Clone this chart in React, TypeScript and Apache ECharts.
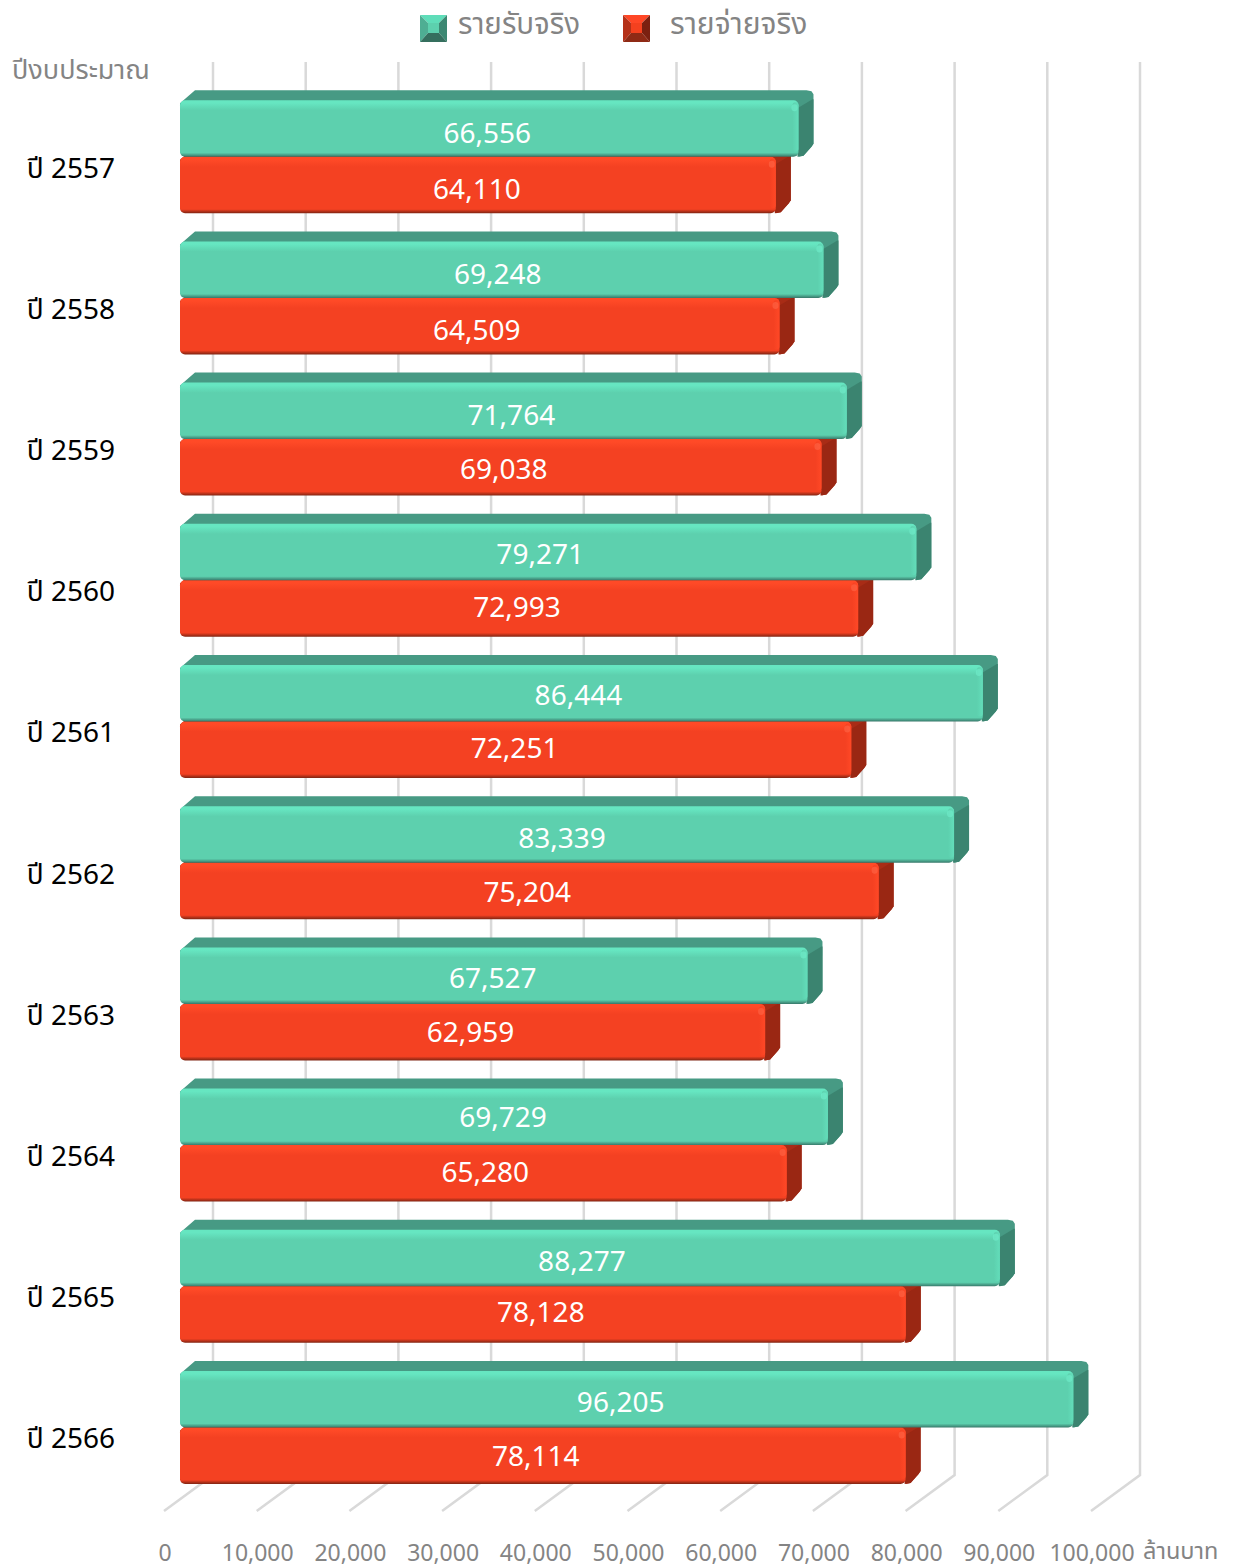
import React, { useEffect, useRef } from "react";
import * as echarts from "echarts";

const categories = ["ปี 2557", "ปี 2558", "ปี 2559", "ปี 2560", "ปี 2561", "ปี 2562", "ปี 2563", "ปี 2564", "ปี 2565", "ปี 2566"];
const incomeActual = [66556, 69248, 71764, 79271, 86444, 83339, 67527, 69729, 88277, 96205];
const expenseActual = [64110, 64509, 69038, 72993, 72251, 75204, 62959, 65280, 78128, 78114];
const valueTicks = [0, 10000, 20000, 30000, 40000, 50000, 60000, 70000, 80000, 90000, 100000];

const incomeName = "รายรับจริง";
const expenseName = "รายจ่ายจริง";

// small label placement corrections
const incomeNudgeX = [-2, -4, -2, -8, -3, -5, -1, -1, -8, -6];
const incomeNudgeY = [4, 3, 3, 1, 1, 3, 1, -1, 2, 2];
const expenseNudgeX = [-1, -3, 3, -2, -1, -2, -2, 2, -2, -7];
const expenseNudgeY = [3, 3, 1, -3, -3, 0, -1, -2, -4, -1];

const FONT = '"Noto Sans", "Noto Sans Thai", "Open Sans", sans-serif';
const FRONT_DX = 16, VALUE_DX = 1.5, BAR_DX = 15, BAR_DY = 10, WALL_DX = 49, WALL_DY = 36;

const TEAL = { mid: "#5DD0AE", hi: "#66E6C1", low: "#38786A", top: "#479A84", side: "#3B8470", edge: "#63DDBA", spot: "#73F0CE" };
const RED = { mid: "#F44122", hi: "#FF4A27", low: "#7F2412", top: "#A82C16", side: "#9A2713", edge: "#FF4826", spot: "#FF6A4A" };

function bevelIcon(top: string, left: string, right: string, bottom: string, mid: string) {
  const svg = `<svg xmlns="http://www.w3.org/2000/svg" width="27" height="39" viewBox="0 -12 27 39"><polygon points="0,0 27,0 19,8 8,8" fill="${top}"/><polygon points="0,0 8,8 8,18 0,27" fill="${left}"/><polygon points="27,0 27,27 19,18 19,8" fill="${right}"/><polygon points="0,27 8,18 19,18 27,27" fill="${bottom}"/><rect x="8" y="8" width="11" height="10" fill="${mid}"/></svg>`;
  return "image://data:image/svg+xml;charset=utf-8," + encodeURIComponent(svg);
}

function barItem(palette: typeof TEAL, values: number[], nudgeX: number[], nudgeY: number[], upper: boolean) {
  return (params: any, api: any) => {
    const i = params.dataIndex;
    const value = api.value(0);
    const [xv, yc] = api.coord([value, api.value(1)]);
    const [x00] = api.coord([0, api.value(1)]);
    const band = api.size([0, 1])[1];
    const h = band * 0.4;
    const split = yc - 12.9;
    const y0 = upper ? split - h : split;
    const y1 = upper ? split : split + h;
    const x0 = x00 + FRONT_DX;
    const x1 = xv + FRONT_DX + VALUE_DX;
    const bx = x1 + BAR_DX;
    const silhouette = [
      [x0, y0 + 3], [x0 + 15, y0 - BAR_DY], [bx - 7, y0 - BAR_DY], [bx - 2, y0 - BAR_DY + 1], [bx, y0 - BAR_DY + 4],
      [bx, y1 - 13], [bx - 2, y1 - 10], [x1 + 5, y1 - 1], [x1, y1], [x1, y1 - 4], [x0, y1 - 4],
    ];
    const side = [
      [x1 - 1, y0 + 8], [bx - 1, y0 - 1], [bx, y0 - 1], [bx, y1 - 13], [bx - 2, y1 - 10], [x1 + 5, y1 - 1], [x1 - 1, y1],
    ];
    const w = x1 - x0;
    return {
      type: "group",
      children: [
        { type: "polygon", shape: { points: silhouette }, style: { fill: palette.top } },
        { type: "polygon", shape: { points: side }, style: { fill: palette.side } },
        {
          type: "rect",
          shape: { x: x0, y: y0, width: w, height: h, r: 5 },
          style: {
            fill: new echarts.graphic.LinearGradient(0, 0, 0, 1, [
              { offset: 0, color: palette.hi },
              { offset: 0.05, color: palette.hi },
              { offset: 0.18, color: palette.mid },
              { offset: 0.93, color: palette.mid },
              { offset: 1, color: palette.low },
            ]),
          },
        },
        {
          type: "rect",
          shape: { x: x1 - 6, y: y0 + 2, width: 6, height: h - 7, r: 3 },
          style: {
            fill: new echarts.graphic.LinearGradient(0, 0, 1, 0, [
              { offset: 0, color: palette.mid },
              { offset: 1, color: palette.edge },
            ]),
          },
        },
        { type: "rect", shape: { x: x1 - 7, y: y0 + 4, width: 6, height: 7, r: 3 }, style: { fill: palette.spot, opacity: 0.55 } },
        {
          type: "text",
          style: {
            text: values[i].toLocaleString("en-US"),
            x: (x0 + x1) / 2 + nudgeX[i],
            y: (y0 + y1) / 2 + nudgeY[i],
            fill: "#FFFFFF",
            font: `28px ${FONT}`,
            align: "center",
            verticalAlign: "middle",
          },
        },
      ],
    };
  };
}

function gridItem(params: any, api: any) {
  const [x] = api.coord([api.value(0), 0]);
  const sys = params.coordSys;
  const bottom = sys.y + sys.height;
  return {
    type: "polyline",
    shape: {
      points: [
        [x, bottom],
        [x + WALL_DX, bottom - WALL_DY],
        [x + WALL_DX, sys.y - WALL_DY - 1],
      ],
    },
    style: { fill: "none", stroke: "#D9D9D9", lineWidth: 2.5 },
  };
}

export default function App() {
  const ref = useRef<HTMLDivElement>(null);
  useEffect(() => {
    const chart = echarts.init(ref.current!, null, { renderer: "svg" });
    chart.setOption({
      animation: false,
      backgroundColor: "#FFFFFF",
      grid: { left: 164, top: 99, width: 927, height: 1412, containLabel: false },
      legend: [
        {
          left: 420, top: 3, padding: 0, itemWidth: 27, itemHeight: 39,
          data: [{ name: incomeName, icon: bevelIcon("#5FDDB9", "#4EAE93", "#3C8872", "#356F5E", "#5DD0AE") }],
          selectedMode: false,
          textStyle: { color: "#848484", fontSize: 29.5, fontFamily: FONT, padding: [0, 0, 0, 6] },
        },
        {
          left: 623, top: 3, padding: 0, itemWidth: 27, itemHeight: 39,
          data: [{ name: expenseName, icon: bevelIcon("#FF4726", "#B53119", "#7B2010", "#8F2A15", "#F4411F") }],
          selectedMode: false,
          textStyle: { color: "#848484", fontSize: 30, fontFamily: FONT, padding: [0, 0, 0, 15] },
        },
      ],
      xAxis: {
        type: "value",
        min: 0,
        max: 100000,
        interval: 10000,
        axisLine: { show: false },
        axisTick: { show: false },
        splitLine: { show: false },
        axisLabel: {
          show: true,
          margin: 29,
          color: "#848484",
          fontSize: 23,
          fontFamily: FONT,
          padding: [0, 0, 0, 2],
          showMinLabel: true,
          showMaxLabel: true,
          hideOverlap: false,
          formatter: (v: number) => v.toLocaleString("en-US"),
        },
      },
      yAxis: {
        type: "category",
        inverse: true,
        data: categories,
        axisLine: { show: false },
        axisTick: { show: false },
        splitLine: { show: false },
        axisLabel: {
          margin: 49,
          formatter: "{a|{value}}",
          rich: { a: { color: "#000000", fontSize: 28, fontFamily: FONT, padding: [0, 0, 6, 0] } },
        },
      },
      graphic: [
        { type: "text", left: 12, top: 55, style: { text: "ปีงบประมาณ", fill: "#848484", font: `27px ${FONT}` } },
        { type: "text", left: 1143, top: 1538, style: { text: "ล้านบาท", fill: "#848484", font: `23.5px ${FONT}` } },
      ],
      series: [
        {
          type: "custom", name: "grid", silent: true, coordinateSystem: "cartesian2d", clip: false,
          encode: { x: 0, y: 1 },
          data: valueTicks.map((v) => [v, 0]),
          renderItem: gridItem,
        },
        {
          type: "custom", name: expenseName, silent: true, coordinateSystem: "cartesian2d", clip: false,
          encode: { x: 0, y: 1 },
          itemStyle: { color: RED.mid },
          data: expenseActual.map((v, i) => [v, i]),
          renderItem: barItem(RED, expenseActual, expenseNudgeX, expenseNudgeY, false),
        },
        {
          type: "custom", name: incomeName, silent: true, coordinateSystem: "cartesian2d", clip: false,
          encode: { x: 0, y: 1 },
          itemStyle: { color: TEAL.mid },
          data: incomeActual.map((v, i) => [v, i]),
          renderItem: barItem(TEAL, incomeActual, incomeNudgeX, incomeNudgeY, true),
        },
      ],
    });
    return () => chart.dispose();
  }, []);
  return <div ref={ref} style={{ position: "absolute", left: 0, top: 0, width: 1237, height: 1566 }} />;
}
